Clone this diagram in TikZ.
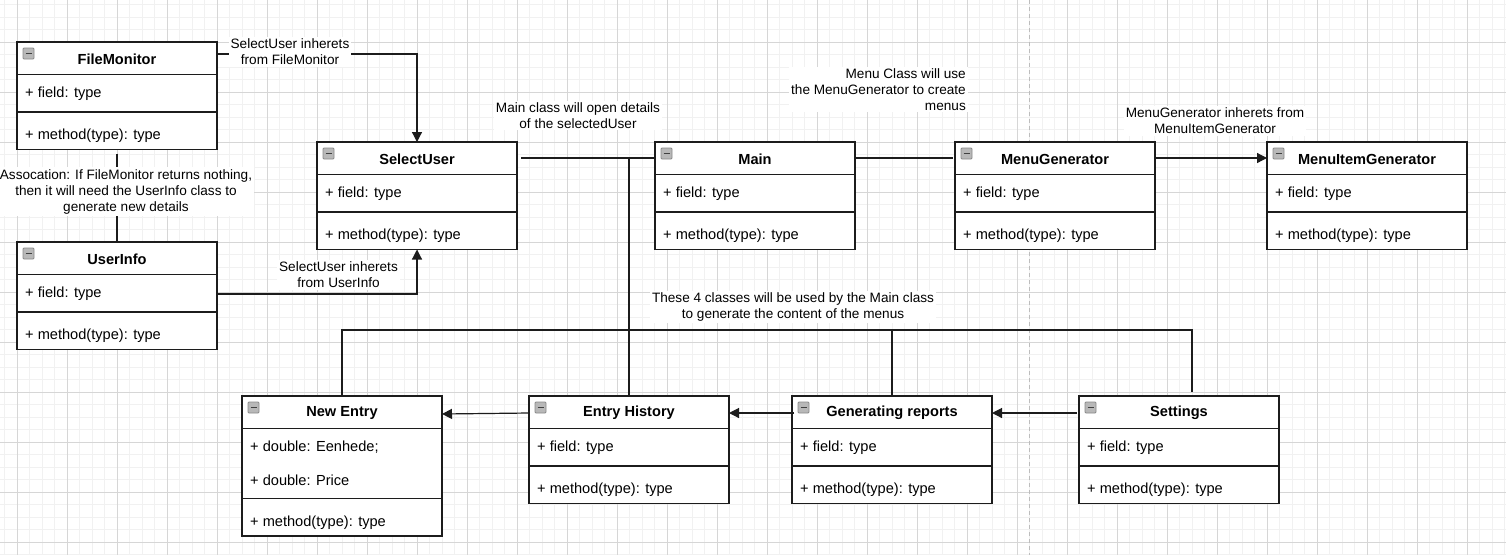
\documentclass[tikz,border=0pt]{standalone}
\usepackage{fontspec}
\setmainfont{Liberation Sans}
\usetikzlibrary{calc,positioning,arrows.meta}
\definecolor{gridminor}{HTML}{F1F1F1}
\definecolor{gridmajor}{HTML}{D6D6D6}
\definecolor{pagebreak}{HTML}{BDBDBD}
\definecolor{iconfill}{HTML}{B8B8B8}
\definecolor{iconedge}{HTML}{8A8A8A}
\definecolor{umlline}{HTML}{1C1C1C}

\tikzset{
  classbox/.style={draw=umlline, line width=1.2pt, fill=white, minimum width=200pt,
    inner sep=0pt, outer sep=0pt, anchor=north west},
  classline/.style={draw=umlline, line width=1.2pt},
  classtitle/.style={font=\fontsize{14.6}{17}\selectfont\bfseries, inner sep=0pt},
  member/.style={font=\fontsize{14.6}{17}\selectfont, anchor=west, inner sep=0pt},
  iconbox/.style={fill=iconfill, draw=iconedge, line width=0.8pt, rounded corners=1pt},
  iconbar/.style={draw=black!75, line width=1.6pt},
  inherit/.style={classline, -{Triangle[length=10pt,width=10pt]}},
  edgelbl/.style={fill=white, inner sep=2pt, align=center,
    font=\fontsize{13.6}{16}\selectfont},
}

% class box: name, north west corner, title, number of field rows, field rows
\newcommand{\umlclass}[5]{%
  \node[classbox, minimum height=75pt+32.5pt*#4] (#1) at #2 {};
  \draw[classline] ($(#1.north west)+(0,32.5)$) -- ($(#1.north east)+(0,32.5)$);
  \draw[iconbox] ($(#1.north west)+(6,6)$) rectangle ++(11,11);
  \draw[iconbar] ($(#1.north west)+(8.5,11.5)$) -- ++(6,0);
  \node[classtitle] (#1-t) at ($(#1.north)+(0,17)$) {#3};
  \foreach \fld [count=\i] in {#5}
    \node[member] (#1-f\i) at ($(#1.north west)+(8,{19+32.5*\i})$) {\fld};
  \draw[classline] ($(#1.north west)+(0,{37.5+32.5*#4})$) -- ($(#1.north east)+(0,{37.5+32.5*#4})$);
  \node[member] (#1-m) at ($(#1.south west)+(8,-13.5)$) {+ method(type): type};
}

\begin{document}
\begin{tikzpicture}[x=1pt, y=-1pt]
  \fill[white] (0,0) rectangle (1506,555);
  \useasboundingbox (0,0) rectangle (1506,555);

  % grid
  \foreach \i in {0,...,120}
    \draw[gridminor, line width=0.8pt] ({4.5+12.5*\i},0) -- ({4.5+12.5*\i},555);
  \foreach \i in {0,...,44}
    \draw[gridminor, line width=0.8pt] (0,{4.5+12.5*\i}) -- (1506,{4.5+12.5*\i});
  \foreach \i in {0,...,29}
    \draw[gridmajor, line width=0.9pt] ({17+50*\i},0) -- ({17+50*\i},555);
  \foreach \i in {0,...,10}
    \draw[gridmajor, line width=0.9pt] (0,{42+50*\i}) -- (1506,{42+50*\i});
  \draw[pagebreak, line width=1pt, dash pattern=on 4pt off 3pt] (1029,0) -- (1029,555);

  % classes
  \umlclass{fm}{(17,42)}{FileMonitor}{1}{+ field: type}
  \umlclass{ui}{(17,242)}{UserInfo}{1}{+ field: type}
  \umlclass{su}{(317,142)}{SelectUser}{1}{+ field: type}
  \umlclass{mn}{(655,142)}{Main}{1}{+ field: type}
  \umlclass{mg}{(955,142)}{MenuGenerator}{1}{+ field: type}
  \umlclass{mig}{(1267,142)}{MenuItemGenerator}{1}{+ field: type}
  \umlclass{ne}{(242,396)}{New Entry}{2}{+ double: Eenhede;, + double: Price}
  \umlclass{eh}{(529,396)}{Entry History}{1}{+ field: type}
  \umlclass{gr}{(792,396)}{Generating reports}{1}{+ field: type}
  \umlclass{st}{(1079,396)}{Settings}{1}{+ field: type}

  % connectors
  \draw[inherit] ($(fm.north east)+(0,12)$) -| (su.north);
  \draw[classline] ($(fm.south)+(0,4)$) -- (ui.north);
  \draw[inherit] ($(ui.north east)+(0,52)$) -| (su.south);
  \draw[classline] ($(su.north east)+(4,16)$) -- ($(mn.north west)+(0,16)$);
  \draw[classline] ($(mn.north west)+(0,16)$) -| (eh.north);
  \draw[classline] ($(mn.north east)+(0,16)$) -- ($(mg.north west)+(-2,16)$);
  \draw[inherit] ($(mg.north east)+(0,16)$) -- ($(mig.north west)+(0,16)$);

  \coordinate (busR) at ($(st.north)+(13,-66)$);
  \draw[classline] (ne.north) |- (busR) -- ++(0,62);
  \draw[classline] (gr.north) -- (gr.north |- busR);

  \draw[inherit] ($(eh.north west)+(0,17)$) -- ($(ne.north east)+(0,18)$);
  \draw[inherit] ($(gr.north west)+(2,17)$) -- ($(eh.north east)+(0,17)$);
  \draw[inherit] ($(st.north west)+(-2,17)$) -- ($(gr.north east)+(0,17)$);

  % labels
  \node[edgelbl] (lfm) at (290,52) {SelectUser inherets\\from FileMonitor};
  \node[edgelbl] (lassoc) at (126,191.5) {Assocation: If FileMonitor returns nothing,\\then it will need the UserInfo class to\\generate new details};
  \node[edgelbl] (lui) at (338.5,275) {SelectUser inherets\\from UserInfo};
  \node[edgelbl] (lmain) at (578,115.5) {Main class will open details\\of the selectedUser};
  \node[edgelbl, align=right, anchor=east] (lmenu) at (968,89.5) {Menu Class will use \\the MenuGenerator to create\\menus};
  \node[edgelbl] (lmig) at (1215,121) {MenuGenerator inherets from\\MenuItemGenerator};
  \node[edgelbl] (lfour) at (793,307) {These 4 classes will be used by the Main class\\to generate the content of the menus};
\end{tikzpicture}
\end{document}
